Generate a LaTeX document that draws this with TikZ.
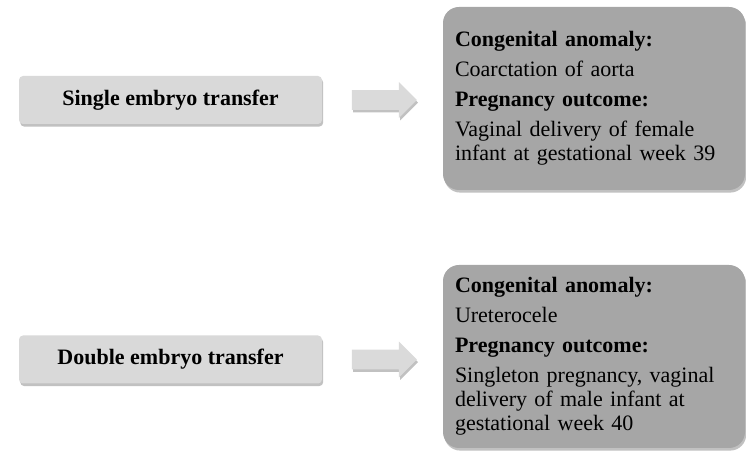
\documentclass[tikz,border=0pt]{standalone}
\usepackage{fontspec}
\setmainfont{Liberation Serif}
\usetikzlibrary{shapes.arrows,shadows,positioning,calc}
\definecolor{transfergray}{RGB}{217,217,217}
\definecolor{outcomegray}{RGB}{166,166,166}
\definecolor{arrowgray}{RGB}{218,218,218}
\newcommand{\outcomefont}{\fontsize{11}{12}\selectfont\hyphenpenalty=10000 \exhyphenpenalty=10000 }
\tikzset{
    softshadow/.style={drop shadow={shadow xshift=0.6pt, shadow yshift=-1.3pt, opacity=0.35, fill=black!70}},
    transfer/.style={rectangle, fill=transfergray, rounded corners=2pt, minimum width=151.5pt, minimum height=24pt, inner sep=2pt, font=\fontsize{11}{12}\selectfont\bfseries, softshadow},
    outcome/.style={rectangle, fill=outcomegray, rounded corners=8pt, text width=139pt, align=left, inner sep=6pt, minimum height=91.5pt, font=\outcomefont, softshadow},
    blockarrow/.style={single arrow, fill=arrowgray, minimum height=32.5pt, single arrow head extend=4pt, inner sep=4.75pt, softshadow}
}

\begin{document}
\begin{tikzpicture}[x=0.5pt,y=-0.5pt]
    \useasboundingbox (0,0) rectangle (746,458);

    % Define coordinate nodes first
    \coordinate (t1) at (170.5,100);
    \coordinate (t2) at (170.5,359.5);
    \coordinate (o1) at (594,98.5);
    \coordinate (o2) at (594,356.5);

    % Single embryo transfer
    \node[transfer] at (t1) (single) {Single embryo transfer};
    \node[outcome] at (o1) (outcome1) {
        \textbf{Congenital anomaly:}\\[3pt]
        Coarctation of aorta\\[3pt]
        \textbf{Pregnancy outcome:}\\[3pt]
        Vaginal delivery of female infant at gestational week 39
    };
    \node[blockarrow, right=14.5pt of single] (arrow1) {};

    % Double embryo transfer
    \node[transfer] at (t2) (double) {Double embryo transfer};
    \node[outcome] at (o2) (outcome2) {
        \textbf{Congenital anomaly:}\\[3pt]
        Ureterocele\\[3pt]
        \textbf{Pregnancy outcome:}\\[3pt]
        Singleton pregnancy, vaginal delivery of male infant at gestational week 40
    };
    \node[blockarrow, right=14.5pt of double] (arrow2) {};
\end{tikzpicture}
\end{document}
